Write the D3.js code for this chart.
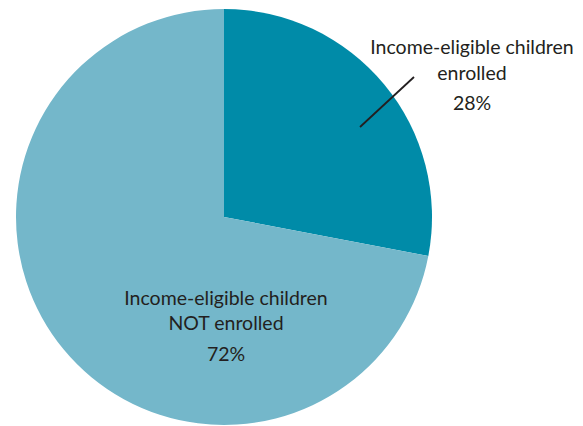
<!DOCTYPE html>
<html><head><meta charset="utf-8">
<script src="https://cdn.jsdelivr.net/npm/d3@7"></script>
<style>body{margin:0;background:#fff}svg{display:block}</style>
</head><body>
<svg id="c" width="583" height="426"></svg>
<script>
const categories = ["Income-eligible children enrolled", "Income-eligible children NOT enrolled"];
const values = [28, 72];
const colors = ["#008ba8", "#74b7ca"];

const svg = d3.select("#c");
const cx = 224, cy = 217, r = 208;
const pie = d3.pie().sort(null).value(d => d.v);
const arcs = pie(categories.map((c, i) => ({c, v: values[i]})));
const arc = d3.arc().innerRadius(0).outerRadius(r);
const g = svg.append("g").attr("transform", `translate(${cx},${cy})`);
g.selectAll("path").data(arcs).join("path")
  .attr("d", arc).attr("fill", (d, i) => colors[i]);

const font = "Lato, 'Open Sans', sans-serif";
function label(x, ys, lines) {
  lines.forEach((t, i) => {
    svg.append("text").attr("x", x).attr("y", ys[i])
      .attr("text-anchor", "middle").attr("font-family", font)
      .attr("font-size", 19.5).attr("fill", "#231f20").text(t);
  });
}
label(472, [54, 80, 110], ["Income-eligible children", "enrolled", values[0] + "%"]);
label(226, [305, 330, 361], ["Income-eligible children", "NOT enrolled", values[1] + "%"]);

svg.append("line").attr("x1", 360).attr("y1", 127).attr("x2", 414).attr("y2", 77)
  .attr("stroke", "#231f20").attr("stroke-width", 1.8);
</script>
</body></html>
